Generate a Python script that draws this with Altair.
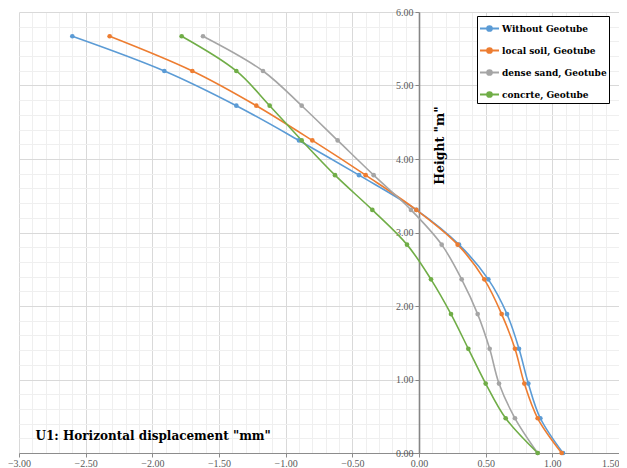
import altair as alt
import pandas as pd

heights = [0.0, 0.4725, 0.945, 1.4175, 1.89, 2.3625, 2.835, 3.3075, 3.78, 4.2525, 4.725, 5.1975, 5.67]
without_geotube = [1.08, 0.91, 0.82, 0.75, 0.66, 0.52, 0.30, -0.02, -0.45, -0.90, -1.37, -1.91, -2.60]
local_soil = [1.07, 0.89, 0.79, 0.72, 0.62, 0.49, 0.29, -0.02, -0.40, -0.80, -1.22, -1.70, -2.32]
dense_sand = [0.89, 0.72, 0.60, 0.53, 0.44, 0.32, 0.17, -0.06, -0.34, -0.61, -0.88, -1.17, -1.62]
concrete = [0.89, 0.65, 0.50, 0.37, 0.24, 0.09, -0.09, -0.35, -0.63, -0.88, -1.12, -1.37, -1.78]

series_names = ["Without Geotube", "local soil, Geotube", "dense sand, Geotube", "concrte, Geotube"]
series_colors = ["#5B9BD5", "#ED7D31", "#A5A5A5", "#70AD47"]

x_ticks = [round(-3.0 + 0.1 * i, 1) for i in range(46)]
y_ticks = [round(0.2 * i, 1) for i in range(31)]

rows = []
for name, vals in zip(series_names, [without_geotube, local_soil, dense_sand, concrete]):
    for i, (h, v) in enumerate(zip(heights, vals)):
        rows.append({"series": name, "disp": v, "height": h, "idx": i})
df = pd.DataFrame(rows)

W, H = 600, 441
x_major = "abs(datum.value*2 - round(datum.value*2)) < 0.001"
y_major = "abs(datum.value - round(datum.value)) < 0.001"

x_axis = alt.Axis(
    values=x_ticks, format=".2f",
    labelExpr=f"{x_major} ? datum.label : ''",
    labelOverlap=False, labelFlush=False,
    labelAlign={"condition": {"test": "datum.value > 1.45", "value": "right"}, "value": "center"},
    gridColor={"condition": {"test": x_major, "value": "#d9d9d9"}, "value": "#efefef"},
    gridWidth=1,
    tickOpacity={"condition": {"test": x_major, "value": 1}, "value": 0},
    tickColor="#8c8c8c", tickSize=4, domainColor="#8c8c8c", domainWidth=1.2,
    labelFont="Liberation Serif", labelFontSize=10, labelColor="#595959", labelPadding=1,
    title='U1: Horizontal displacement "mm"',
    titleX=16, titleY=-14, titleAlign="left", titleBaseline="alphabetic",
    titleFont="DejaVu Serif", titleFontWeight="bold", titleFontSize=12, titleColor="black",
)

y_axis = alt.Axis(
    values=y_ticks, format=".2f", orient="left", offset=-W * 3 / 4.5,
    labelExpr=f"{y_major} ? datum.label : ''",
    labelOverlap=False, labelFlush=False,
    gridColor={"condition": {"test": y_major, "value": "#d9d9d9"}, "value": "#efefef"},
    gridWidth=1,
    tickOpacity={"condition": {"test": y_major, "value": 1}, "value": 0},
    tickColor="#868686", tickSize=4, domainColor="#868686", domainWidth=1.6,
    labelFont="Liberation Serif", labelFontSize=10, labelColor="#595959", labelPadding=2,
    title='Height "m"', titleAngle=270, titleX=20, titleY=133,
    titleAlign="center", titleBaseline="middle",
    titleFont="DejaVu Serif", titleFontWeight="bold", titleFontSize=12.5, titleColor="black",
)

legend_path = ("M-1,0L1,0M-0.26,0A0.26,0.26,0,1,0,0.26,0"
               "A0.26,0.26,0,1,0,-0.26,0Z")

color = alt.Color(
    "series:N",
    scale=alt.Scale(domain=series_names, range=series_colors),
    legend=alt.Legend(
        orient="none", legendX=458, legendY=4, title=None,
        symbolType=legend_path, symbolSize=361, symbolStrokeWidth=1.8,
        labelFont="DejaVu Serif", labelFontWeight="bold", labelFontSize=9,
        labelColor="black", labelOffset=2,
        strokeColor="black", fillColor="white", padding=2, rowPadding=5,
    ),
)

x = alt.X("disp:Q", scale=alt.Scale(domain=[-3, 1.5], nice=False, zero=False), axis=x_axis)
y = alt.Y("height:Q", scale=alt.Scale(domain=[0, 6], nice=False, zero=False), axis=y_axis)

base = alt.Chart(df)
lines = base.mark_line(strokeWidth=1.6, interpolate="catmull-rom").encode(
    x=x, y=y, color=color, order="idx:Q", detail="series:N"
)
points = base.mark_point(filled=True, size=22, opacity=1, shape="circle").encode(
    x=x, y=y, color=color
)

chart = (
    alt.layer(lines, points)
    .properties(
        width=W, height=H,
        autosize=alt.AutoSizeParams(type="none"),
        padding={"left": 11, "top": 4, "right": 0, "bottom": 14},
        background="white",
    )
    .configure_view(stroke=None)
)

chart.save("out.html", embed_options={"renderer": "svg", "actions": False})
